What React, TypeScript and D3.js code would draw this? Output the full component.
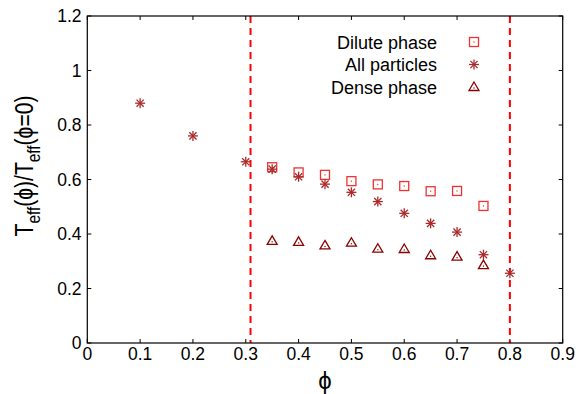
import React from "react";
import * as d3 from "d3";

const phiAll = [0.1, 0.2, 0.3, 0.35, 0.4, 0.45, 0.5, 0.55, 0.6, 0.65, 0.7, 0.75, 0.8];
const allParticles = [0.88, 0.76, 0.665, 0.638, 0.61, 0.583, 0.553, 0.519, 0.476, 0.439, 0.407, 0.324, 0.256];
const phiPhase = [0.35, 0.4, 0.45, 0.5, 0.55, 0.6, 0.65, 0.7, 0.75];
const dilute = [0.645, 0.626, 0.617, 0.594, 0.582, 0.576, 0.557, 0.558, 0.503];
const dense = [0.375, 0.371, 0.358, 0.368, 0.346, 0.345, 0.322, 0.317, 0.286];
const xTicks = [0, 0.1, 0.2, 0.3, 0.4, 0.5, 0.6, 0.7, 0.8, 0.9];
const yTicks = [0, 0.2, 0.4, 0.6, 0.8, 1, 1.2];
const phaseBounds = [0.309, 0.8];
const legendItems = ["Dilute phase", "All particles", "Dense phase"];

const W = 587, H = 394;
const left = 87.3, right = 562.7, top = 16, bottom = 343;
const font = "'Liberation Sans', Arial, Helvetica, sans-serif";
const cSquare = "#ee3333";
const cStar = "#aa2a2a";
const cTri = "#8b0000";

function Square({ x, y }: { x: number; y: number }) {
  const s = 4.5;
  return (
    <g>
      <rect x={x - s} y={y - s} width={2 * s} height={2 * s} fill="none" stroke={cSquare} strokeWidth={1.3} />
      <rect x={x - 0.6} y={y - 0.6} width={1.2} height={1.2} fill={cSquare} />
    </g>
  );
}
function Star({ x, y }: { x: number; y: number }) {
  const s = 5, d = 3.6;
  return (
    <g stroke={cStar} strokeWidth={1.3}>
      <line x1={x - s} y1={y} x2={x + s} y2={y} />
      <line x1={x} y1={y - s} x2={x} y2={y + s} />
      <line x1={x - d} y1={y - d} x2={x + d} y2={y + d} />
      <line x1={x - d} y1={y + d} x2={x + d} y2={y - d} />
    </g>
  );
}
function Tri({ x, y }: { x: number; y: number }) {
  const s = 5;
  const p = `${x},${y - s} ${x + s},${y + s * 0.7} ${x - s},${y + s * 0.7}`;
  return (
    <g>
      <polygon points={p} fill="none" stroke={cTri} strokeWidth={1.3} />
      <rect x={x - 0.6} y={y + 0.4} width={1.2} height={1.2} fill={cTri} />
    </g>
  );
}

export default function App() {
  const x = d3.scaleLinear().domain([0, 0.9]).range([left, right]);
  const y = d3.scaleLinear().domain([0, 1.2]).range([bottom, top]);
  const tick = 4;
  return (
    <svg width={W} height={H} style={{ position: "absolute", left: 0, top: 0, background: "#fff" }} fontFamily={font}>
      {xTicks.map((t) => (
        <g key={"x" + t}>
          <line x1={x(t)} x2={x(t)} y1={bottom} y2={bottom - tick} stroke="#000" />
          <line x1={x(t)} x2={x(t)} y1={top} y2={top + tick} stroke="#000" />
          <text x={x(t)} y={360} fontSize={17.5} textAnchor="middle">{String(t)}</text>
        </g>
      ))}
      {yTicks.map((t) => (
        <g key={"y" + t}>
          <line x1={left} x2={left + tick} y1={y(t)} y2={y(t)} stroke="#000" />
          <line x1={right} x2={right - tick} y1={y(t)} y2={y(t)} stroke="#000" />
          <text x={81.5} y={y(t) + 6} fontSize={17.5} textAnchor="end">{String(t)}</text>
        </g>
      ))}
      {phaseBounds.map((b) => (
        <line key={"b" + b} x1={x(b)} x2={x(b)} y1={top} y2={bottom} stroke="#ff0000" strokeWidth={2} strokeDasharray="7,5" />
      ))}
      <rect x={left} y={top} width={right - left} height={bottom - top} fill="none" stroke="#000" strokeWidth={1.2} />
      {phiPhase.map((p, i) => <Square key={"s" + i} x={x(p)} y={y(dilute[i])} />)}
      {phiAll.map((p, i) => <Star key={"a" + i} x={x(p)} y={y(allParticles[i])} />)}
      {phiPhase.map((p, i) => <Tri key={"t" + i} x={x(p)} y={y(dense[i])} />)}
      {legendItems.map((l, i) => (
        <text key={l} x={437} y={48.5 + i * 22.5} fontSize={18} textAnchor="end">{l}</text>
      ))}
      <Square x={474} y={42} />
      <Star x={474} y={64.5} />
      <Tri x={474} y={87} />
      <text x={325} y={389} fontSize={24} textAnchor="middle">ϕ</text>
      <text transform="translate(33,166) rotate(-90) scale(0.81,1)" fontSize={26} textAnchor="middle">
        T<tspan fontSize={19} dy={7}>eff</tspan><tspan dy={-7}>(ϕ)/T</tspan><tspan fontSize={19} dy={7}>eff</tspan><tspan dy={-7}>(ϕ=0)</tspan>
      </text>
    </svg>
  );
}
